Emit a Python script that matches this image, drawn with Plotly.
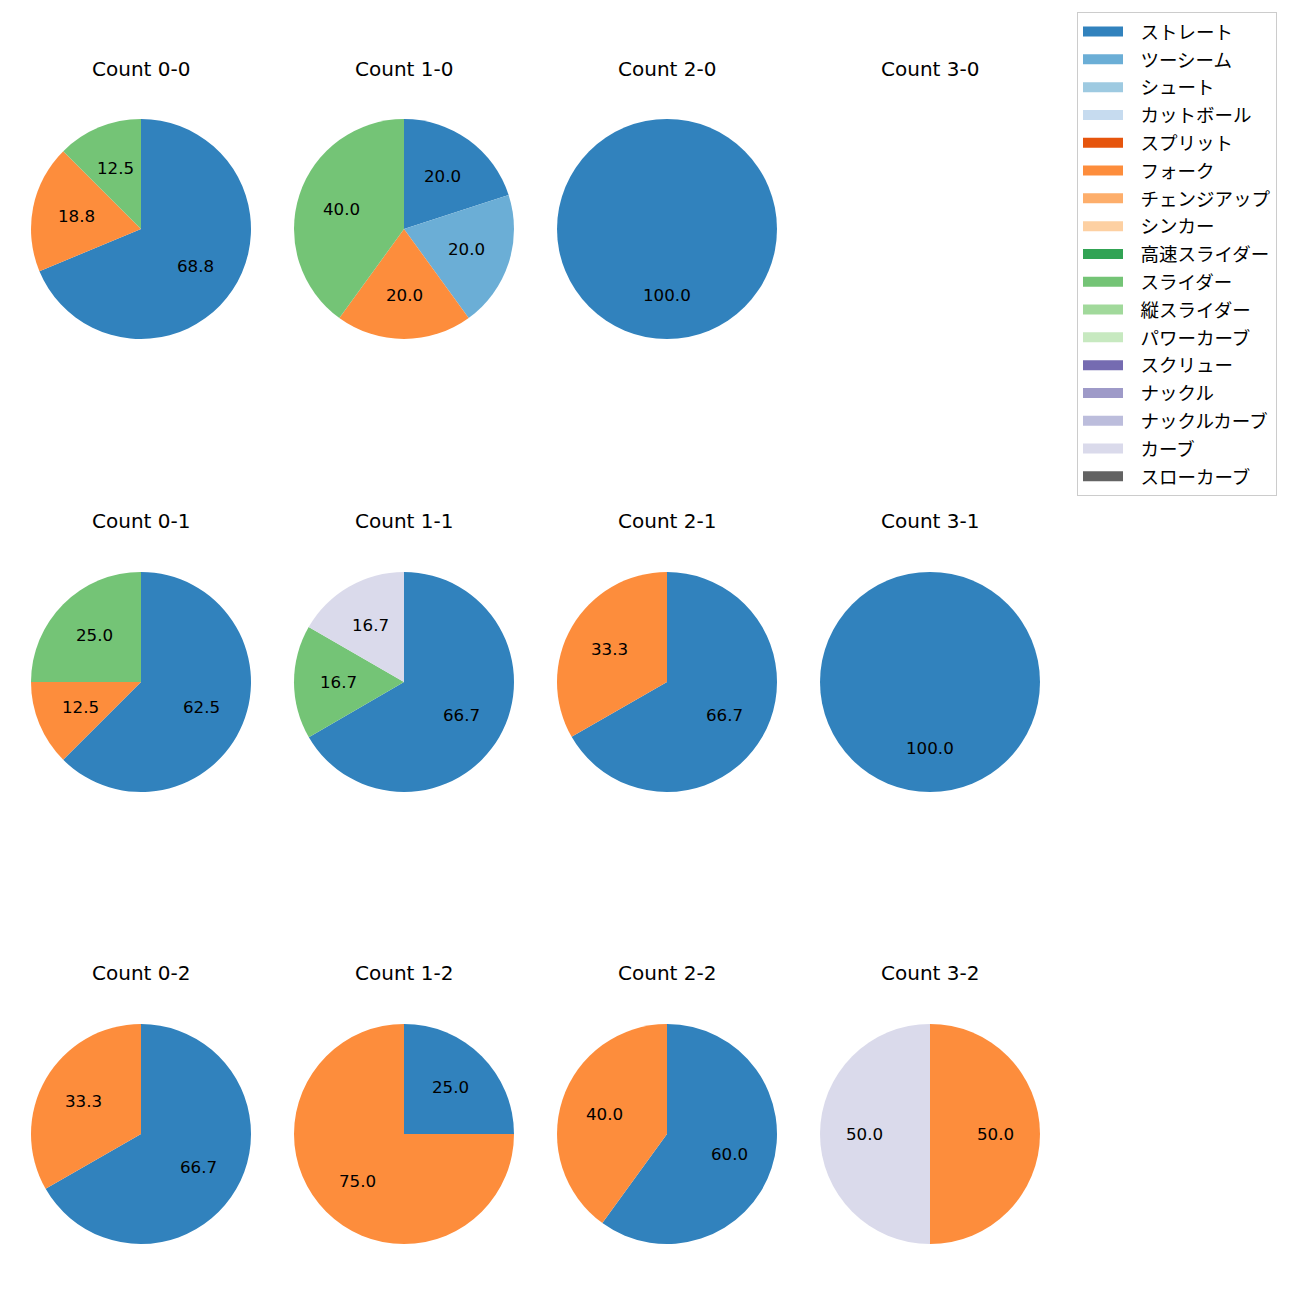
import math
import plotly.graph_objects as go

pitch_types = ["ストレート", "ツーシーム", "シュート", "カットボール", "スプリット", "フォーク",
               "チェンジアップ", "シンカー", "高速スライダー", "スライダー", "縦スライダー",
               "パワーカーブ", "スクリュー", "ナックル", "ナックルカーブ", "カーブ", "スローカーブ"]
colors = ["#3182bd", "#6baed6", "#9ecae1", "#c6dbef", "#e6550d", "#fd8d3c", "#fdae6b", "#fdd0a2",
          "#31a354", "#74c476", "#a1d99b", "#c7e9c0", "#756bb1", "#9e9ac8", "#bcbddc", "#dadaeb",
          "#636363"]
color_map = dict(zip(pitch_types, colors))

counts = ["Count 0-0", "Count 1-0", "Count 2-0", "Count 3-0",
          "Count 0-1", "Count 1-1", "Count 2-1", "Count 3-1",
          "Count 0-2", "Count 1-2", "Count 2-2", "Count 3-2"]
count_labels = [
    ["ストレート", "フォーク", "スライダー"],
    ["ストレート", "ツーシーム", "フォーク", "スライダー"],
    ["ストレート"],
    [],
    ["ストレート", "フォーク", "スライダー"],
    ["ストレート", "スライダー", "カーブ"],
    ["ストレート", "フォーク"],
    ["ストレート"],
    ["ストレート", "フォーク"],
    ["ストレート", "フォーク"],
    ["ストレート", "フォーク"],
    ["フォーク", "カーブ"],
]
count_values = [
    [68.8, 18.8, 12.5],
    [20.0, 20.0, 20.0, 40.0],
    [100.0],
    [],
    [62.5, 12.5, 25.0],
    [66.7, 16.7, 16.7],
    [66.7, 33.3],
    [100.0],
    [66.7, 33.3],
    [25.0, 75.0],
    [60.0, 40.0],
    [50.0, 50.0],
]

OFF = 8  # browser body margin
W = H = 1300 - OFF
col_cx = [141, 404, 667, 930]
row_cy = [229, 682, 1134]
title_y = [69, 521, 973]
R = 110
LATIN = "DejaVu Sans, Noto Sans CJK JP, sans-serif"
LEG = "Noto Sans CJK JP, DejaVu Sans, sans-serif"


def px_x(x):
    return (x - OFF) / W


def px_y(y):
    return 1 - (y - OFF) / H


fig = go.Figure()
annotations = []
for i, (title, labs, vals) in enumerate(zip(counts, count_labels, count_values)):
    r, c = divmod(i, 4)
    cx, cy = col_cx[c], row_cy[r]
    annotations.append(dict(text=title, x=px_x(cx), y=px_y(title_y[r]), xref="paper", yref="paper",
                            showarrow=False, xanchor="center", yanchor="middle",
                            font=dict(size=20, color="black", family=LATIN)))
    if not vals:
        continue
    fig.add_trace(go.Pie(
        labels=labs, values=vals, sort=False, direction="clockwise", rotation=0,
        marker=dict(colors=[color_map[l] for l in labs], line=dict(width=0)),
        textinfo="none", hoverinfo="label+percent", showlegend=False,
        domain=dict(x=[px_x(cx - R), px_x(cx + R)], y=[px_y(cy + R), px_y(cy - R)]),
    ))
    total = sum(vals)
    start = 90.0
    for v in vals:
        span = 360.0 * v / total
        mid = math.radians(start - span / 2)
        start -= span
        tx = cx + 0.6 * R * math.cos(mid)
        ty = cy - 0.6 * R * math.sin(mid)
        annotations.append(dict(text=f"{v:.1f}", x=px_x(tx), y=px_y(ty), xref="paper", yref="paper",
                                showarrow=False, xanchor="center", yanchor="middle",
                                font=dict(size=16.7, color="black", family=LATIN)))

PAD = "\u00a0\u00a0\u00a0"
for name, col in zip(pitch_types, colors):
    fig.add_trace(go.Scatter(x=[None], y=[None], mode="lines", name=PAD + name, legendgroup=name,
                             line=dict(color=col, width=12), showlegend=True, hoverinfo="skip"))

fig.update_layout(
    width=W, height=H, margin=dict(l=0, r=0, t=0, b=0),
    paper_bgcolor="white", plot_bgcolor="white",
    xaxis=dict(visible=False), yaxis=dict(visible=False),
    annotations=annotations,
    font=dict(family=LATIN, size=16.7, color="black"),
    legend=dict(x=px_x(1077), y=px_y(12), xanchor="left", yanchor="top",
                bordercolor="#cccccc", borderwidth=1, bgcolor="white",
                tracegroupgap=0.75, itemwidth=40,
                font=dict(size=18.5, family=LEG, color="black")),
)

fig.write_html("out.html")
